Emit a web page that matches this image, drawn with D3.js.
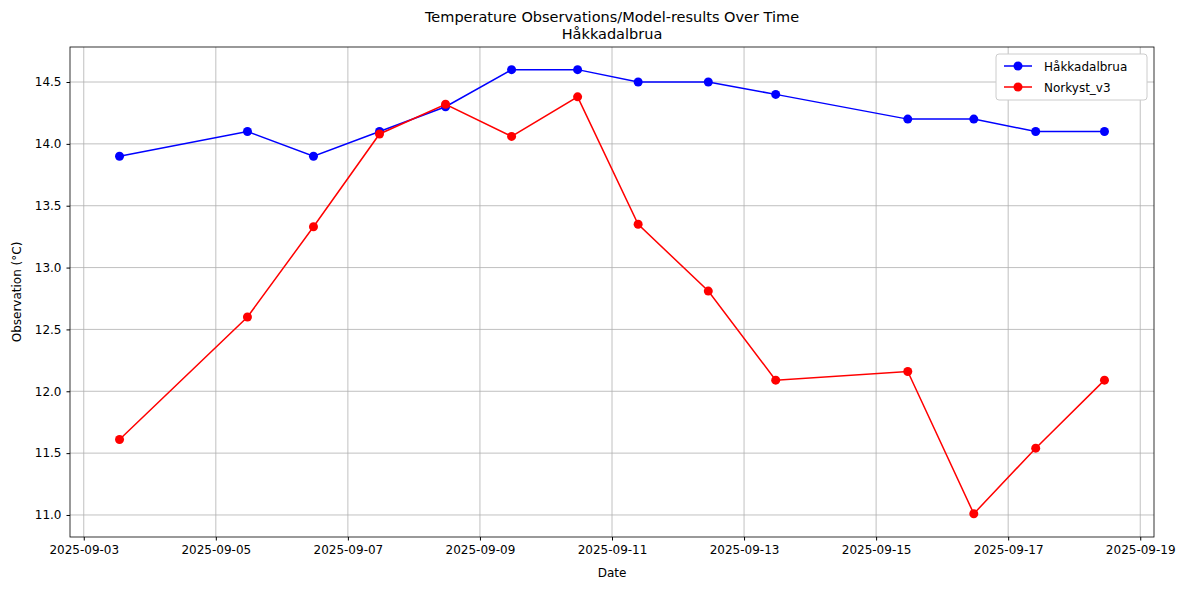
<!DOCTYPE html><html><head><script src="https://cdn.jsdelivr.net/npm/d3@7"></script>
<style>body{margin:0;background:#fff}text{font-family:"DejaVu Sans",sans-serif}</style></head><body><svg id="c" width="1187" height="590"></svg>
<script>
const times=["2025-09-03T13:00","2025-09-05T11:30","2025-09-06T11:30","2025-09-07T11:30","2025-09-08T11:30","2025-09-09T11:30","2025-09-10T11:30","2025-09-11T09:30","2025-09-12T11:00","2025-09-13T11:30","2025-09-15T11:30","2025-09-16T11:30","2025-09-17T10:00","2025-09-18T11:00"];
const obs=[13.9,14.1,13.9,14.1,14.3,14.6,14.6,14.5,14.5,14.4,14.2,14.2,14.1,14.1];
const model=[11.61,12.6,13.33,14.08,14.32,14.06,14.38,13.35,12.81,12.09,12.16,11.01,11.54,12.09];
const yTicks=[11.0,11.5,12.0,12.5,13.0,13.5,14.0,14.5];
const xTicks=["2025-09-03","2025-09-05","2025-09-07","2025-09-09","2025-09-11","2025-09-13","2025-09-15","2025-09-17","2025-09-19"];
const P=d3.timeParse("%Y-%m-%dT%H:%M"),PD=d3.timeParse("%Y-%m-%d");
const L=70,R=1154,T=47,B=537;
const svg=d3.select("#c");
const x=d3.scaleTime().domain([P("2025-09-02T19:00"),P("2025-09-19T05:00")]).range([L,R]);
const y=d3.scaleLinear().domain([10.822,14.783]).range([B,T]);
const g=svg.append("g");
xTicks.forEach(t=>{const X=x(PD(t));g.append("line").attr("x1",X).attr("x2",X).attr("y1",T).attr("y2",B).attr("stroke","#b0b0b0").attr("stroke-width",0.8);});
yTicks.forEach(t=>{g.append("line").attr("x1",L).attr("x2",R).attr("y1",y(t)).attr("y2",y(t)).attr("stroke","#b0b0b0").attr("stroke-width",0.8);});
const xa=svg.append("g").attr("transform",`translate(0,${B})`).call(d3.axisBottom(x).tickValues(xTicks.map(PD)).tickFormat(d3.timeFormat("%Y-%m-%d")).tickSizeOuter(0).tickSize(3.5).tickPadding(5));
const ya=svg.append("g").attr("transform",`translate(${L},0)`).call(d3.axisLeft(y).tickValues(yTicks).tickFormat(d3.format(".1f")).tickSizeOuter(0).tickSize(3.5).tickPadding(5));
[xa,ya].forEach(a=>{a.selectAll("text").attr("font-size",12).attr("fill","#000");a.select(".domain").remove();});
svg.append("rect").attr("x",L).attr("y",T).attr("width",R-L).attr("height",B-T).attr("fill","none").attr("stroke","#000").attr("stroke-width",0.8);
function series(v,c){const d=times.map((t,i)=>[x(P(t)),y(v[i])]);
svg.append("path").attr("d",d3.line()(d)).attr("fill","none").attr("stroke",c).attr("stroke-width",1.5);
svg.selectAll(null).data(d).enter().append("circle").attr("cx",d=>d[0]).attr("cy",d=>d[1]).attr("r",4.5).attr("fill",c);}
series(obs,"blue");series(model,"red");
svg.append("text").attr("x",612).attr("y",22).attr("text-anchor","middle").attr("font-size",14.5).text("Temperature Observations/Model-results Over Time");
svg.append("text").attr("x",612).attr("y",39).attr("text-anchor","middle").attr("font-size",14.5).text("Håkkadalbrua");
svg.append("text").attr("x",612).attr("y",577).attr("text-anchor","middle").attr("font-size",12).text("Date");
svg.append("text").attr("transform","translate(21,292) rotate(-90)").attr("text-anchor","middle").attr("font-size",12).text("Observation (°C)");
const lg=svg.append("g");
lg.append("rect").attr("x",996).attr("y",54).attr("width",151).attr("height",46).attr("rx",3).attr("fill","#fff").attr("stroke","#ccc");
[["Håkkadalbrua","blue"],["Norkyst_v3","red"]].forEach(([n,c],i)=>{const yy=66+i*21;
lg.append("line").attr("x1",1004).attr("x2",1032).attr("y1",yy).attr("y2",yy).attr("stroke",c).attr("stroke-width",1.5);
lg.append("circle").attr("cx",1018).attr("cy",yy).attr("r",4.5).attr("fill",c);
lg.append("text").attr("x",1044).attr("y",yy+4.5).attr("font-size",12).text(n);});
</script></body></html>
